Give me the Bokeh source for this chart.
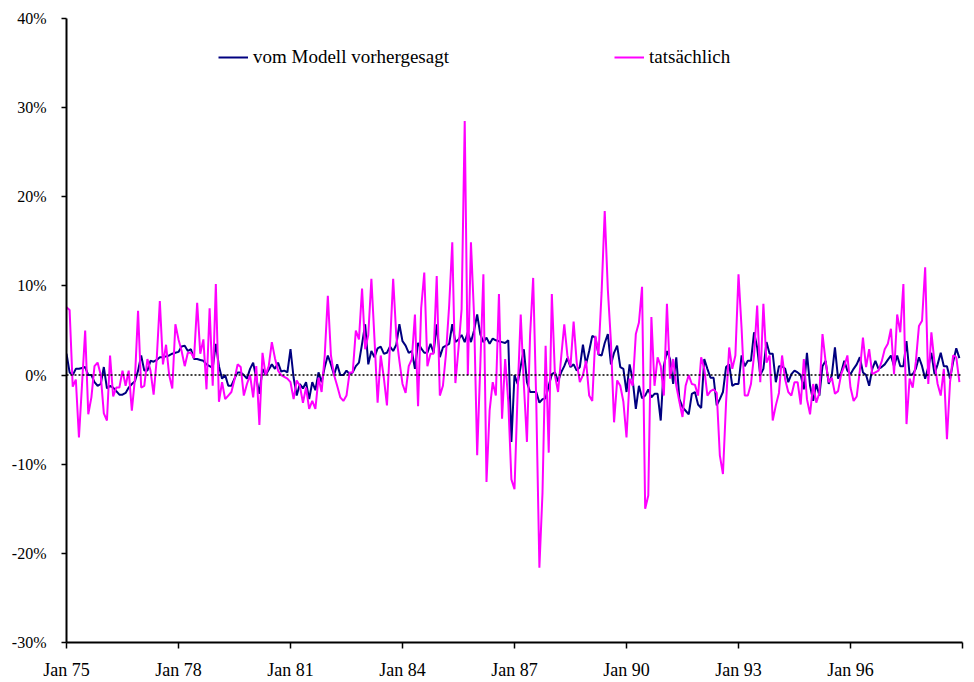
from bokeh.plotting import figure
from bokeh.models import (Range1d, FixedTicker, PrintfTickFormatter, Span,
                          Legend, LegendItem, ColumnDataSource)
from bokeh.embed import file_html
from bokeh.resources import INLINE

FONT = "Liberation Serif"

# ---- data (monthly % changes, Jan 1975 .. Dec 1998) ----
tick_labels = ["Jan 75", "Jan 78", "Jan 81", "Jan 84", "Jan 87",
               "Jan 90", "Jan 93", "Jan 96", ""]
y_ticks = [-30, -20, -10, 0, 10, 20, 30, 40]

actual = [
    7.6, 7.3, -1.3, -0.5, -7.0, -1.0, 5.0, -4.4, -2.5, 1.0, 1.4, 0.0,          # 75
    -4.3, -5.1, 2.2, -2.4, -1.4, -1.4, 0.5, -1.2, 0.5, -4.0, -0.4, 7.2,        # 76
    -1.4, -1.2, 1.8, 0.5, -2.2, 1.8, 8.3, 1.2, 3.4, 0.0, -1.5, 5.7,            # 77
    4.0, 2.7, 1.0, 2.5, 2.5, 1.9, 8.1, 2.4, 4.0, -1.6, 7.5, -1.2,              # 78
    10.2, -3.0, -0.8, -2.7, -2.3, -1.9, -0.5, 1.2, 0.9, -2.3, -1.0, 0.0,       # 79
    -2.5, 1.0, -5.6, 2.5, 0.0, 1.0, 3.7, 1.9, 0.5, 0.0, -0.2, -0.4,            # 80
    -0.8, -2.7, -0.6, -1.2, -3.1, -1.4, -3.8, -2.9, -3.8, -0.3, -1.9, 2.2,     # 81
    8.9, 2.2, 0.0, -1.2, -2.5, -2.9, -2.3, 0.3, 0.3, 5.0, 4.0, 9.7,            # 82
    2.9, 4.5, 10.8, 4.0, -3.1, 2.2, -0.3, -3.4, 3.5, 10.8, 4.4, 1.6,           # 83
    -1.0, -2.0, 1.0, 1.8, 6.8, -3.5, 7.5, 11.5, 1.0, 2.4, 2.4, 11.1,           # 84
    -2.3, -1.2, 2.5, 7.8, 14.9, -0.9, 3.0, 7.4, 28.5, 0.0, 14.9, 6.7,          # 85
    -9.0, 1.0, 11.3, -12.0, -4.0, -0.8, -2.3, 9.1, -4.9, 1.8, -3.0, -11.7,     # 86
    -12.8, -2.0, 6.8, -1.0, -7.5, 4.4, 10.9, -3.1, -21.6, -13.2, 3.3, -8.7,    # 87
    9.1, 0.0, -1.9, 2.0, 5.7, 2.2, 1.0, 6.0, 1.4, -0.8, 0.0, 1.6,              # 88
    -2.3, -2.9, 4.4, 2.3, 9.3, 18.4, 9.6, 3.7, -5.3, -0.6, -1.2, -3.0,         # 89
    -7.0, -0.4, -1.2, 4.6, 5.9, 9.9, -15.0, -13.5, 6.5, -1.2, 2.0, 1.0,        # 90
    -2.3, 8.0, -0.4, 1.8, -1.2, -3.0, -4.7, -1.2, 0.0, -1.0, -1.1, -2.3,       # 91
    2.0, 0.7, -2.3, -1.8, -1.6, -2.0, -9.0, -11.1, -3.1, 3.1, 0.7, 2.2,        # 92
    11.3, 5.2, -2.3, -2.3, -1.0, 2.2, 7.8, -0.8, 8.0, 1.4, 2.2, -5.1,          # 93
    -3.4, -2.0, 2.2, -0.5, -1.9, -2.3, -0.8, -0.8, -3.3, 1.8, -2.7, -4.4,      # 94
    -1.0, -3.1, -2.0, 4.6, 1.5, -0.8, -0.3, -2.1, -1.8, 0.1, 1.0, 2.2,         # 95
    -1.4, -2.9, -2.4, 0.5, 4.2, 0.9, 2.9, 0.1, 0.3, 0.5, 1.5, 2.9,             # 96
    3.5, 5.2, 0.1, 6.8, 4.8, 10.2, -5.5, -0.4, -1.4, 1.5, 5.5, 6.1,            # 97
    12.1, -1.0, 4.8, 1.4, -1.0, -2.3, 0.7, -7.2, -0.8, 2.2, 2.0, -0.8,         # 98
]

predicted = [
    2.4, 0.3, 0.0, 0.7, 0.7, 0.8, 0.9, 0.0, 0.0, -0.8, -1.2, -1.0,             # 75
    0.9, -1.5, -1.2, -1.4, -1.8, -2.2, -2.2, -2.0, -1.4, -1.0, -0.7, 0.5,      # 76
    2.2, 0.5, 0.5, 1.6, 1.5, 1.7, 2.0, 2.0, 2.1, 2.2, 2.4, 2.5,                # 77
    2.6, 3.2, 3.3, 2.7, 2.9, 1.8, 1.8, 1.7, 1.6, 1.2, 1.0, 0.8,                # 78
    3.5, 1.0, -0.4, 0.0, -1.2, -1.2, -0.4, 0.3, 0.3, 0.0, -0.4, 0.7,           # 79
    1.4, -0.4, -2.1, 0.7, 0.0, 0.6, 1.2, 0.7, 1.4, 0.4, 0.5, 0.3,              # 80
    2.9, -0.3, -2.3, -1.0, -1.5, -0.8, -2.7, -0.8, -1.7, 0.3, -0.8, 0.9,       # 81
    2.2, 1.2, 0.0, 1.2, 0.0, 0.0, 0.5, 0.1, 0.3, 1.0, 1.4, 3.5,                # 82
    5.7, 1.2, 2.7, 2.0, 3.0, 3.2, 2.4, 2.5, 3.2, 2.7, 3.4, 5.7,                # 83
    3.8, 3.3, 2.5, 2.7, 0.7, 3.6, 3.0, 2.5, 2.5, 3.5, 2.5, 5.7,                # 84
    2.0, 3.1, 3.3, 3.5, 5.7, 3.7, 4.0, 4.5, 3.7, 4.8, 3.7, 5.0,                # 85
    6.8, 4.6, 3.7, 4.2, 3.5, 4.1, 3.9, 3.8, 3.7, 3.6, 3.9, -7.5,               # 86
    0.0, -1.0, 1.0, 2.9, -0.8, -1.9, -1.9, -1.9, -3.1, -2.7, -2.6, -1.2,       # 87
    0.1, 0.3, -0.7, 0.3, 1.0, 1.9, 0.9, 1.2, 0.5, 0.9, 3.4, 1.2,               # 88
    2.7, 4.4, 4.2, 2.3, 2.2, 3.6, 4.6, 1.2, 2.5, 3.3, 0.9, 0.7,                # 89
    -1.9, 1.2, -0.6, -3.8, -1.2, -2.6, -2.3, -1.6, -2.5, -2.1, -2.1, -5.1,     # 90
    1.0, 2.7, 1.8, -1.0, 2.0, -2.7, -3.6, -4.0, -4.4, -2.1, -1.9, -3.3,        # 91
    -3.7, 1.8, 0.7, -0.3, -0.3, -3.4, -2.7, -1.9, 0.9, 1.2, -1.2, -1.0,        # 92
    -1.0, 2.2, 1.0, 1.6, 1.6, 4.8, 3.1, 0.0, 0.7, 3.7, 2.4, 2.4,               # 93
    -0.8, 1.0, 1.0, 0.7, -0.8, 0.1, 0.5, 0.3, 0.0, -1.6, 2.5, -1.2,            # 94
    -2.9, -1.0, -2.3, 1.0, 1.6, -1.0, 0.0, 3.1, -0.4, 0.3, 1.6, 0.5,           # 95
    0.1, 0.7, 1.2, 2.0, 0.3, 0.0, -1.2, 0.7, 1.6, 0.7, 0.9, 1.2,               # 96
    1.7, 2.2, 1.0, 2.2, 1.0, 1.0, 3.8, 0.0, 0.1, 0.7, 2.0, 1.0,                # 97
    -0.4, 0.9, 2.5, 0.1, 1.2, 2.5, 1.0, 1.0, -0.4, 1.5, 3.0, 1.9,              # 98
]

months = list(range(len(actual)))
n_months = 288
tick_pos = [36 * k for k in range(len(tick_labels))]

src = ColumnDataSource(dict(m=months, actual=actual, predicted=predicted))

p = figure(width=972, height=682, output_backend="svg", toolbar_location=None,
           x_range=Range1d(0, n_months), y_range=Range1d(-30, 40),
           min_border_left=66, min_border_right=10, min_border_top=18,
           min_border_bottom=40)
p.outline_line_color = None
p.grid.grid_line_color = None
p.background_fill_color = "white"
p.border_fill_color = "white"

# zero line
p.add_layout(Span(location=0, dimension="width", line_color="black",
                  line_width=1.5, line_dash="2 2"))

r_pred = p.line("m", "predicted", source=src, line_color="#000080", line_width=2)
r_act = p.line("m", "actual", source=src, line_color="#FF00FF", line_width=2)

# axes
xa = p.xaxis[0]
xa.ticker = FixedTicker(ticks=tick_pos)
xa.major_label_overrides = {t: l for t, l in zip(tick_pos, tick_labels)}
xa.minor_tick_line_color = None
xa.major_tick_in = 0
xa.major_tick_out = 6
xa.axis_line_width = 2
xa.major_tick_line_width = 1.5
xa.major_label_standoff = 11
xa.major_label_text_font = FONT
xa.major_label_text_font_size = "18px"
xa.major_label_text_color = "black"

ya = p.yaxis[0]
ya.ticker = FixedTicker(ticks=y_ticks)
ya.formatter = PrintfTickFormatter(format="%d%%")
ya.minor_tick_line_color = None
ya.major_tick_in = 0
ya.major_tick_out = 5
ya.axis_line_width = 2
ya.major_tick_line_width = 1.5
ya.major_label_standoff = 15
ya.major_label_text_font = FONT
ya.major_label_text_font_size = "16px"
ya.major_label_text_color = "black"

def make_legend(label, renderer, loc):
    lg = Legend(items=[LegendItem(label=label, renderers=[renderer])],
                location=loc, orientation="horizontal",
                margin=0, padding=0, border_line_alpha=0,
                background_fill_alpha=0, glyph_width=30, glyph_height=20,
                label_standoff=5, label_text_font=FONT,
                label_text_font_size="19px", label_text_color="black")
    return lg

p.add_layout(make_legend("vom Modell vorhergesagt", r_pred, (152, 574)))
p.add_layout(make_legend("tatsächlich", r_act, (548, 574)))

open("out.html", "w").write(file_html(p, INLINE))
